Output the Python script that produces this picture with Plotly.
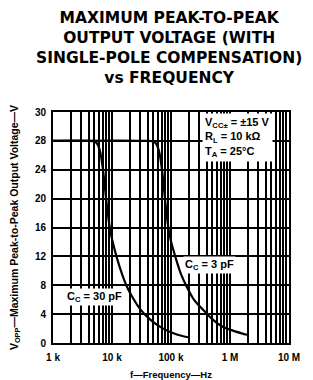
import plotly.graph_objects as go

# Frequency (Hz) and max peak-to-peak output voltage (V)
f_30pf = [1e3, 4e3, 5e3, 5.6e3, 6.3e3, 7.1e3, 8e3, 9e3, 10e3, 12e3, 15e3, 17.7e3,
          22e3, 30e3, 45e3, 70e3, 110e3, 150e3, 195e3]
v_30pf = [28, 28, 27.9, 27.6, 26.5, 23.7, 19.8, 16.4, 14.4, 11.9, 9.4, 7.9,
          6.4, 4.7, 3.2, 2.1, 1.34, 1.0, 0.8]

f_3pf = [1e3, 40e3, 50e3, 56e3, 63e3, 71e3, 80e3, 90e3, 96e3, 120e3, 150e3, 185e3,
         250e3, 353e3, 500e3, 700e3, 1e6, 1.58e6, 1.95e6]
v_3pf = [28, 28, 27.9, 27.6, 26.5, 23.7, 19.6, 16.0, 14.7, 11.8, 9.4, 7.8,
         5.9, 4.57, 3.3, 2.4, 1.85, 1.34, 1.15]

x_tickvals = [1e3, 1e4, 1e5, 1e6, 1e7]
x_ticktext = ["1 k", "10 k", "100 k", "1 M", "10 M"]
y_tickvals = [0, 4, 8, 12, 16, 20, 24, 28, 32]
y_ticktext = ["0", "4", "8", "12", "16", "20", "24", "28", "30"]

FONT = "Liberation Sans"
TFONT = "DejaVu Sans"

fig = go.Figure()
fig.add_trace(go.Scatter(x=f_30pf, y=v_30pf, mode="lines", line=dict(color="black", width=2.2),
                         line_shape="spline", showlegend=False, hoverinfo="skip"))
fig.add_trace(go.Scatter(x=f_3pf, y=v_3pf, mode="lines", line=dict(color="black", width=2.2),
                         line_shape="spline", showlegend=False, hoverinfo="skip"))

fig.update_layout(
    width=313, height=380,
    margin=dict(l=53, r=24, t=112, b=37, autoexpand=False),
    paper_bgcolor="white", plot_bgcolor="white",
    font=dict(family=FONT, color="black"),
    showlegend=False,
)

fig.update_xaxes(
    type="log", range=[3, 7], automargin=False,
    tickvals=x_tickvals, ticktext=x_ticktext,
    tickfont=dict(family=FONT, size=10, weight="bold"),
    ticklabelstandoff=4,
    showgrid=True, gridcolor="black", gridwidth=2,
    minor=dict(dtick="D1", showgrid=True, gridcolor="black", gridwidth=1.6, ticks=""),
    showline=True, linecolor="black", linewidth=2, mirror=True,
    ticks="", zeroline=False,
    title=dict(text="f\u2014Frequency\u2014Hz", font=dict(family=FONT, size=9.5, weight="bold"), standoff=10),
)
fig.update_yaxes(
    range=[0, 32], automargin=False,
    tickvals=y_tickvals, ticktext=y_ticktext,
    tickfont=dict(family=FONT, size=10, weight="bold"),
    ticklabelstandoff=3,
    showgrid=True, gridcolor="black", gridwidth=2,
    showline=True, linecolor="black", linewidth=2, mirror=True,
    ticks="", zeroline=False,
    title=dict(text="V<sub>OPP</sub>\u2014Maximum Peak-to-Peak Output Voltage\u2014V",
               font=dict(family=FONT, size=10.5, weight="bold"), standoff=14),
)

# Title
fig.add_annotation(
    text="MAXIMUM PEAK-TO-PEAK<br>OUTPUT VOLTAGE (WITH<br>SINGLE-POLE COMPENSATION)<br>vs FREQUENCY",
    xref="paper", yref="paper", x=0.49, y=1.0, yshift=105, xanchor="center", yanchor="top",
    showarrow=False, align="center",
    font=dict(family=TFONT, size=15.5, weight="bold"),
)

# Conditions box
fig.add_annotation(
    text="V<sub>CC\u00b1</sub> = \u00b115 V<br>R<sub>L</sub> = 10 k\u03a9<br>T<sub>A</sub> = 25\u00b0C",
    xref="x", yref="y", x=5.52, y=28.5, xanchor="left", yanchor="middle",
    showarrow=False, align="left", bgcolor="white", borderpad=2,
    font=dict(family=FONT, size=11, weight="bold"),
)

# Curve labels
fig.add_annotation(
    text="C<sub>C</sub> = 30 pF", xref="x", yref="y", x=3.71, y=6.4,
    showarrow=False, bgcolor="white", borderpad=1,
    font=dict(family=FONT, size=11, weight="bold"),
)
fig.add_annotation(
    text="C<sub>C</sub> = 3 pF", xref="x", yref="y", x=5.66, y=10.8,
    showarrow=False, bgcolor="white", borderpad=1,
    font=dict(family=FONT, size=11, weight="bold"),
)

fig.write_html("out.html", config={"displayModeBar": False},
               post_script="document.body.style.margin='0';")
